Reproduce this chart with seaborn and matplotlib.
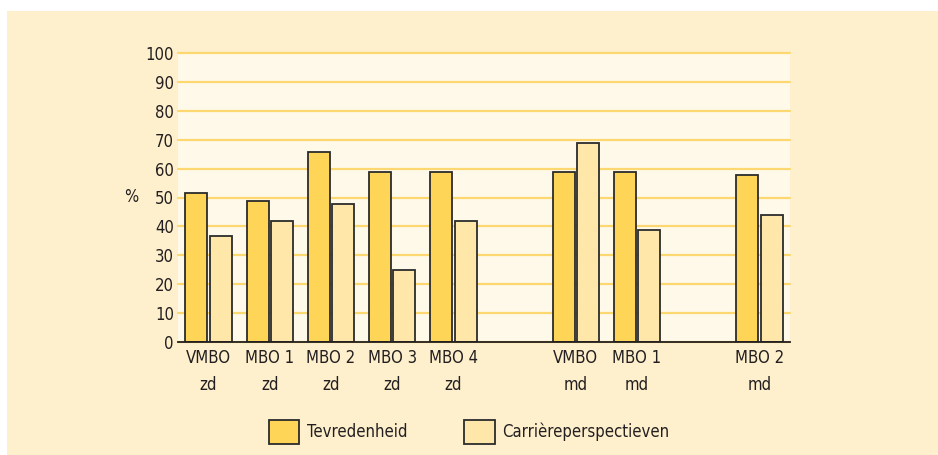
import pandas as pd
import matplotlib.pyplot as plt
import seaborn as sns
from matplotlib.patches import Rectangle, Patch

# data
groups = ["VMBO\nzd", "MBO 1\nzd", "MBO 2\nzd", "MBO 3\nzd", "MBO 4\nzd",
          "VMBO\nmd", "MBO 1\nmd", "MBO 2\nmd"]
slots = [0, 1, 2, 3, 4, 6, 7, 9]
tevredenheid = [51.7, 48.7, 65.6, 58.7, 58.7, 58.7, 58.7, 57.7]
carriere = [36.8, 41.8, 47.9, 24.9, 41.8, 68.7, 38.8, 43.8]
series = ["Tevredenheid", "Carrièreperspectieven"]
yticks = list(range(0, 101, 10))

PANEL = "#FEF0CD"
PLOT_BG = "#FFF9EA"
GRID = "#FDD870"
COLORS = ["#FFD558", "#FFE7A9"]
INK = "#231F20"

df = pd.DataFrame({
    "slot": slots * 2,
    "value": tevredenheid + carriere,
    "series": [series[0]] * len(slots) + [series[1]] * len(slots),
})

sns.set_theme(style="white")
plt.rcParams["font.family"] = ["DejaVu Sans"]
plt.rcParams["font.stretch"] = "condensed"

fig = plt.figure(figsize=(9.38, 4.55), dpi=100, facecolor="white")
fig.patches.append(Rectangle((7 / 938, 0), 1, 1 - 11 / 455, transform=fig.transFigure,
                             facecolor=PANEL, edgecolor="none", zorder=-10))

ax = fig.add_axes([178 / 938, 1 - 342 / 455, 612 / 938, 289 / 455])
ax.set_facecolor(PLOT_BG)

sns.barplot(data=df, x="slot", y="value", hue="series", hue_order=series,
            palette=COLORS, saturation=1, native_scale=True, width=0.8, gap=0.1,
            edgecolor="#2b2b2b", linewidth=1.3, legend=False, ax=ax)

ax.set_xlim(-0.5, 9.5)
ax.set_ylim(0, 100)
ax.set_yticks(yticks)
ax.set_xticks(slots, groups)
ax.yaxis.grid(True, color=GRID, linewidth=1.6)
for gl in ax.get_ygridlines():
    gl.set_clip_on(False)
ax.set_axisbelow(True)
for s in ["top", "right", "left"]:
    ax.spines[s].set_visible(False)
ax.spines["bottom"].set_color(INK)
ax.spines["bottom"].set_linewidth(1.3)
ax.tick_params(axis="both", length=0, labelsize=12, colors=INK)
ax.tick_params(axis="y", pad=3)
ax.tick_params(axis="x", pad=5)
for lbl in ax.get_xticklabels():
    lbl.set_linespacing(1.65)
ax.set_xlabel("")
ax.set_ylabel("%", rotation=0, fontsize=12, color=INK, labelpad=10, va="center")

handles = [Patch(facecolor=c, edgecolor="#2b2b2b", linewidth=1.3) for c in COLORS]
fig.legend(handles, series, loc="center", bbox_to_anchor=(0.5, 1 - 432 / 455),
           ncol=2, frameon=False, fontsize=12, handlelength=1.85, handleheight=1.75,
           handletextpad=0.45, columnspacing=3.4, labelcolor=INK)

fig.savefig("out.png", dpi=100, facecolor=fig.get_facecolor())
